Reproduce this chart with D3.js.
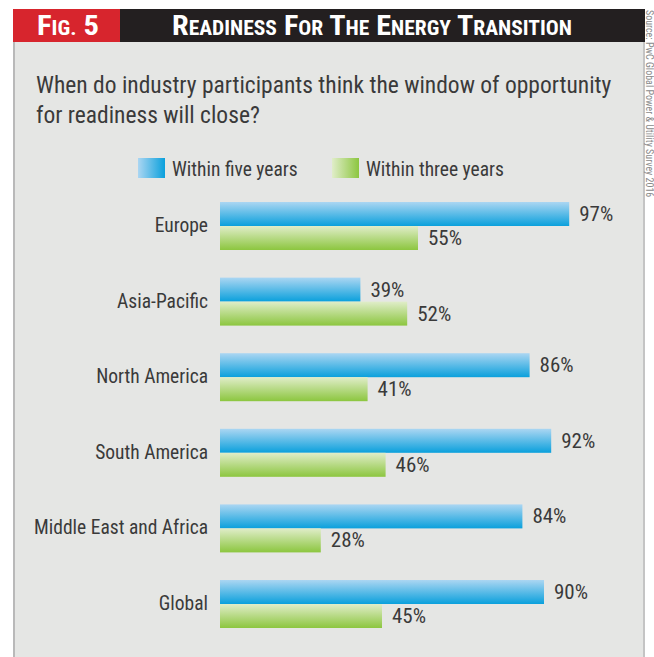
<!DOCTYPE html>
<html>
<head>
<meta charset="utf-8">
<script src="https://cdn.jsdelivr.net/npm/d3@7"></script>
<style>
    body { margin: 0; background: #fff; }
    svg text { font-family: 'Liberation Sans Narrow', 'Arial Narrow', 'Roboto Condensed', sans-serif; }
</style>
</head>
<body>
<div id="myChart"></div>
<script>
const regions = ['Europe', 'Asia-Pacific', 'North America', 'South America', 'Middle East and Africa', 'Global'];
const fiveYears = [97, 39, 86, 92, 84, 90];
const threeYears = [55, 52, 41, 46, 28, 45];
const seriesNames = ['Within five years', 'Within three years'];
const questionLines = ['When do industry participants think the window of opportunity', 'for readiness will close?'];
const sourceText = 'Source: PwC Global Power & Utility Survey 2016';

const width = 654, height = 657;
const textColor = '#3a3a3a';

let svg = d3
    .select('#myChart')
    .append('svg')
    .attr('width', width)
    .attr('height', height);

let defs = svg.append('defs');

// gradients for the bars (vertical) and legend swatches (horizontal)
function gradient(id, light, dark, horizontal) {
    let g = defs.append('linearGradient')
        .attr('id', id)
        .attr('x1', 0).attr('y1', 0)
        .attr('x2', horizontal ? 1 : 0)
        .attr('y2', horizontal ? 0 : 1);
    g.append('stop').attr('offset', '0%').attr('stop-color', light);
    g.append('stop').attr('offset', '100%').attr('stop-color', dark);
}
gradient('blueV', '#abd6f2', '#0aa0dc', false);
gradient('greenV', '#e0edc9', '#8cc63f', false);
gradient('blueH', '#abd6f2', '#0aa0dc', true);
gradient('greenH', '#e0edc9', '#8cc63f', true);

// panel
svg.append('rect')
    .attr('x', 13).attr('y', 42)
    .attr('width', 632).attr('height', 620)
    .attr('fill', '#e5e6e4');
svg.append('rect')
    .attr('x', 13).attr('y', 42)
    .attr('width', 2).attr('height', 620)
    .attr('fill', '#b9b9b9');
svg.append('rect')
    .attr('x', 643).attr('y', 42)
    .attr('width', 2).attr('height', 620)
    .attr('fill', '#c4c4c4');

// header
svg.append('rect')
    .attr('x', 13).attr('y', 9)
    .attr('width', 107).attr('height', 33)
    .attr('fill', '#d7252d');
svg.append('rect')
    .attr('x', 120).attr('y', 9)
    .attr('width', 525).attr('height', 33)
    .attr('fill', '#231f20');

// small caps built from tspans
function smallCaps(textSel, str, big, small) {
    str.split(' ').forEach((word, i) => {
        if (i > 0) textSel.append('tspan').style('font-size', big + 'px').text(' ');
        let first = word[0];
        let rest = word.slice(1);
        let isLetter = /[A-Za-z]/.test(first);
        textSel.append('tspan').style('font-size', big + 'px').text(first.toUpperCase());
        if (rest.length) {
            textSel.append('tspan')
                .style('font-size', (isLetter ? small : big) + 'px')
                .text(rest.toUpperCase());
        }
    });
}

let figText = svg.append('text')
    .attr('x', 37).attr('y', 35)
    .attr('fill', '#fff')
    .style('font-weight', 'bold');
smallCaps(figText, 'Fig. 5', 28, 20);
figText.attr('textLength', 62).attr('lengthAdjust', 'spacingAndGlyphs');

let headText = svg.append('text')
    .attr('x', 172).attr('y', 35)
    .attr('fill', '#fff')
    .style('font-weight', 'bold');
smallCaps(headText, 'Readiness For The Energy Transition', 28, 20);
headText.attr('textLength', 400).attr('lengthAdjust', 'spacingAndGlyphs');

// source, rotated down the right edge
svg.append('text')
    .attr('transform', 'translate(645.5,10) rotate(90)')
    .attr('fill', '#8a8a8a')
    .style('font-size', '10px')
    .text(sourceText);

// question
svg.selectAll('.question')
    .data(questionLines)
    .enter()
    .append('text')
    .attr('class', 'question')
    .attr('x', 36)
    .attr('y', (d, i) => 93 + i * 30)
    .attr('fill', textColor)
    .style('font-size', '23.5px')
    .text((d) => d);

// legend
let legendX = [138, 332];
let legend = svg.selectAll('.legend')
    .data(seriesNames)
    .enter()
    .append('g')
    .attr('class', 'legend')
    .attr('transform', (d, i) => 'translate(' + legendX[i] + ',158)');
legend.append('rect')
    .attr('width', 27).attr('height', 20)
    .attr('fill', (d, i) => (i === 0 ? 'url(#blueH)' : 'url(#greenH)'));
legend.append('text')
    .attr('x', 34).attr('y', 18)
    .attr('fill', textColor)
    .style('font-size', '19.5px')
    .text((d) => d);

// scales
let x = d3.scaleLinear().domain([0, 100]).range([220, 580]);
let y = d3.scaleBand()
    .domain(regions)
    .range([202, 202 + 5 * 75.6 + 48])
    .paddingInner((75.6 - 48) / 75.6)
    .paddingOuter(0);
let sub = d3.scaleBand().domain([0, 1]).range([0, y.bandwidth()]);

let rows = regions.map((r, i) => ({ region: r, values: [fiveYears[i], threeYears[i]] }));

let row = svg.selectAll('.row')
    .data(rows)
    .enter()
    .append('g')
    .attr('class', 'row')
    .attr('transform', (d) => 'translate(0,' + y(d.region) + ')');

row.append('text')
    .attr('x', 208)
    .attr('y', sub(1) + 6)
    .attr('text-anchor', 'end')
    .attr('fill', textColor)
    .style('font-size', '19.5px')
    .text((d) => d.region);

let bar = row.selectAll('.bar')
    .data((d) => d.values)
    .enter();

bar.append('rect')
    .attr('class', 'bar')
    .attr('x', x(0))
    .attr('y', (d, i) => sub(i))
    .attr('width', (d) => x(d) - x(0))
    .attr('height', sub.bandwidth())
    .attr('fill', (d, i) => (i === 0 ? 'url(#blueV)' : 'url(#greenV)'));

bar.append('text')
    .attr('x', (d) => x(d) + 10)
    .attr('y', (d, i) => sub(i) + sub.bandwidth() / 2 + 7)
    .attr('fill', textColor)
    .style('font-size', '21px')
    .text((d) => d + '%');
</script>
</body>
</html>
